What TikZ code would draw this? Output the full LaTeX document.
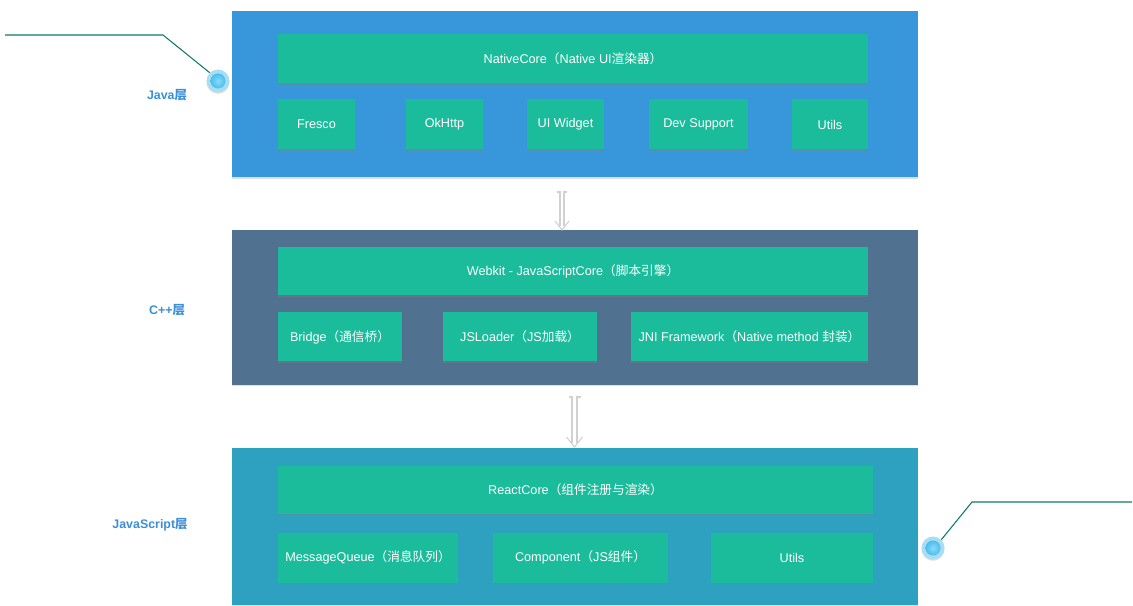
\documentclass[tikz,border=0pt]{standalone}
\usepackage{fontspec}
\setmainfont{Liberation Sans}
\newfontfamily\cjk{Noto Sans CJK SC}
\usetikzlibrary{shadows,calc}
\definecolor{javabg}{HTML}{3896DA}
\definecolor{cppbg}{HTML}{50718F}
\definecolor{jsbg}{HTML}{2DA1BF}
\definecolor{gbox}{HTML}{1BBC9B}
\definecolor{lblue}{HTML}{3B8ED8}
\definecolor{cline}{HTML}{0E7B66}
\definecolor{ring}{HTML}{A9DDF2}
\definecolor{dot}{HTML}{45BFF0}
\tikzset{
  layer/.style={fill=#1, draw=none, inner sep=0pt, drop shadow={shadow xshift=0pt, shadow yshift=-1pt, opacity=0.25}},
  gbox/.style={fill=gbox, draw=none, inner sep=0pt, text=white, font=\fontsize{9.5}{11}\selectfont,
     drop shadow={shadow xshift=0pt, shadow yshift=-1pt, opacity=0.35}},
  lbl/.style={text=lblue, font=\fontsize{9.3}{11}\selectfont\bfseries, inner sep=0pt},
  callout/.style={draw=cline, line width=0.8pt},
  dbl/.style={draw=black!18, line width=0.8pt},
}
\newcommand\bx[7]{\node[#1, minimum width={(#5-#3)*0.75pt}, minimum height={(#6-#4)*0.75pt}] (#2) at ({(#3+#5)/2},{(#4+#6)/2+0.5}) {#7};}
\begin{document}
\begin{tikzpicture}[x=0.75pt,y=-0.75pt]
\useasboundingbox (0,0) rectangle (1133,606);
% layers
\bx{layer=javabg}{java}{232}{11}{918}{177}{}
\bx{layer=cppbg}{cpp}{232}{230}{918}{384}{}
\bx{layer=jsbg}{js}{232}{447}{918}{604}{}
% Java boxes
\bx{gbox}{native}{278}{34}{868}{83}{NativeCore{\cjk（}Native UI{\cjk 渲染器）}}
\bx{gbox}{fresco}{278}{99}{355}{149}{Fresco}
\bx{gbox}{okhttp}{406}{99}{483}{149}{OkHttp}
\bx{gbox}{uiw}{527}{99}{604}{149}{UI Widget}
\bx{gbox}{dev}{649}{99}{748}{149}{Dev Support}
\bx{gbox}{utils1}{792}{99}{868}{149}{Utils}
% C++ boxes
\bx{gbox}{webkit}{278}{247}{868}{295}{Webkit - JavaScriptCore{\cjk（脚本引擎）}}
\bx{gbox}{bridge}{278}{312}{402}{361}{Bridge{\cjk（通信桥）}}
\bx{gbox}{jsl}{443}{312}{597}{361}{JSLoader{\cjk（}JS{\cjk 加载）}}
\bx{gbox}{jni}{631}{312}{868}{361}{JNI Framework{\cjk（}Native method {\cjk 封装）}}
% JS boxes
\bx{gbox}{react}{278}{465}{873}{513}{ReactCore{\cjk（组件注册与渲染）}}
\bx{gbox}{mq}{278}{532}{458}{582}{MessageQueue{\cjk（消息队列）}}
\bx{gbox}{comp}{493}{532}{668}{582}{Component{\cjk（}JS{\cjk 组件）}}
\bx{gbox}{utils2}{711}{532}{873}{582}{Utils}
% layer labels
\node[lbl] (ljava) at (167,95) {Java{\cjk\bfseries 层}};
\node[lbl] (lcpp) at (167,310) {C++{\cjk\bfseries 层}};
\node[lbl] (ljs) at (150,525) {JavaScript{\cjk\bfseries 层}};
% callouts
\coordinate (c1a) at (5,35);
\coordinate (c1b) at (163,35);
\node[circle, minimum size=23*0.75pt, inner sep=0pt, fill=ring, drop shadow={shadow xshift=0pt, shadow yshift=-1pt, opacity=0.25}] (dot1) at (218,81) {};
\node[circle, minimum size=15*0.75pt, inner sep=0pt, inner color=dot!60, outer color=dot] at (dot1) {};
\draw[callout] (c1a) -- (c1b) -- (dot1.north west);
\coordinate (c2a) at (1132,502);
\coordinate (c2b) at (972,502);
\node[circle, minimum size=23*0.75pt, inner sep=0pt, fill=ring, drop shadow={shadow xshift=0pt, shadow yshift=-1pt, opacity=0.25}] (dot2) at (933,548) {};
\node[circle, minimum size=15*0.75pt, inner sep=0pt, inner color=dot!60, outer color=dot] at (dot2) {};
\draw[callout] (c2a) -- (c2b) -- (dot2.north east);
% arrows between layers
\coordinate (a1t) at (562,192);
\coordinate (a1b) at (562,230);
\draw[dbl] ($(a1t)+(-2,0)$) -- ($(a1b)+(-2,-4)$);
\draw[dbl] ($(a1t)+(2,0)$) -- ($(a1b)+(2,-4)$);
\draw[dbl] ($(a1t)+(-5,0)$) -- ($(a1t)+(-1,0)$);
\draw[dbl] ($(a1t)+(1,0)$) -- ($(a1t)+(5,0)$);
\draw[dbl] ($(a1b)+(-7,-9)$) -- (a1b) -- ($(a1b)+(7,-9)$);
\coordinate (a2t) at (574.5,397);
\coordinate (a2b) at (574.5,447);
\draw[dbl] ($(a2t)+(-2.5,0)$) -- ($(a2b)+(-2.5,-4)$);
\draw[dbl] ($(a2t)+(2.5,0)$) -- ($(a2b)+(2.5,-4)$);
\draw[dbl] ($(a2t)+(-6,0)$) -- ($(a2t)+(-1.5,0)$);
\draw[dbl] ($(a2t)+(1.5,0)$) -- ($(a2t)+(6,0)$);
\draw[dbl] ($(a2b)+(-8,-10)$) -- (a2b) -- ($(a2b)+(8,-10)$);
\end{tikzpicture}
\end{document}
